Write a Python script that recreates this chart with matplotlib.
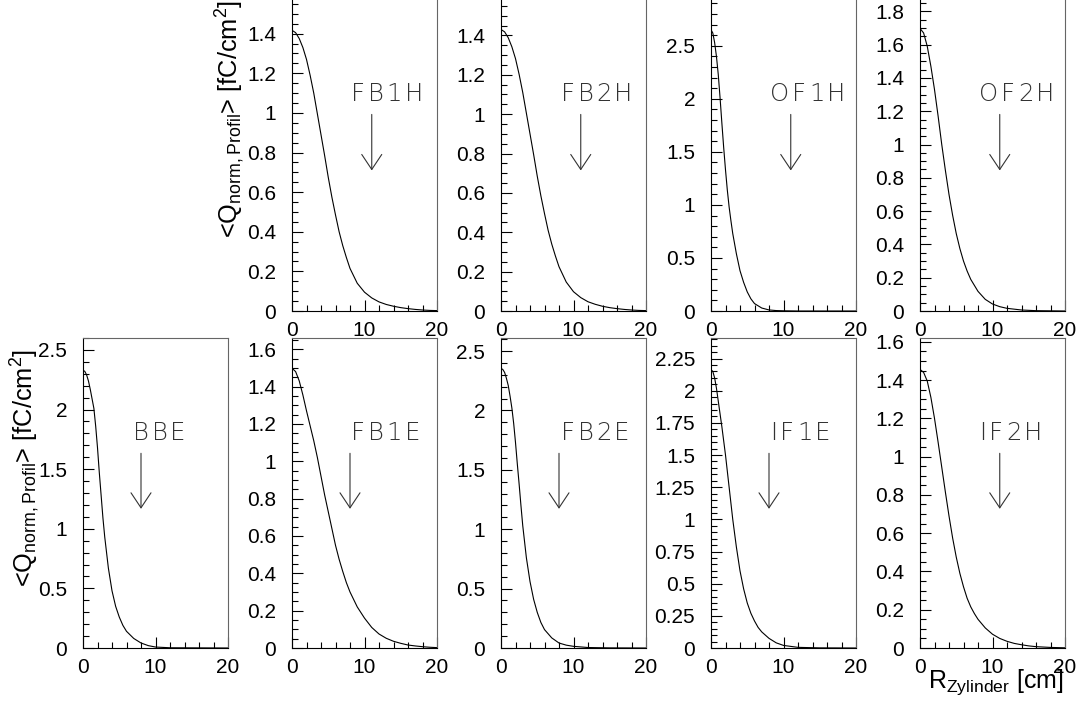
import matplotlib
matplotlib.use('Agg')
import matplotlib.pyplot as plt
from matplotlib.ticker import MultipleLocator, FuncFormatter
from matplotlib.transforms import Bbox, TransformedBbox, offset_copy
from matplotlib.font_manager import FontProperties
from matplotlib.textpath import text_to_path

plt.rcParams['font.family'] = ['Liberation Sans', 'DejaVu Sans']

# radial charge profiles <Q_norm,Profil>(R_Zylinder)
r_fb1h = [0, 0.5, 1, 1.5, 2, 2.5, 3, 3.5, 4, 4.5, 5, 5.5, 6, 6.5, 7, 7.5, 8,
          9, 10, 11, 12, 13, 14, 15, 16, 17, 18, 19, 20]
q_fb1h = [1.417, 1.405, 1.375, 1.33, 1.27, 1.19, 1.10, 0.995, 0.89, 0.785, 0.675,
          0.575, 0.485, 0.40, 0.33, 0.27, 0.215, 0.14, 0.095, 0.066, 0.046, 0.033,
          0.024, 0.017, 0.012, 0.008, 0.005, 0.003, 0.002]

r_fb2h = [0, 0.5, 1, 1.5, 2, 2.5, 3, 3.5, 4, 4.5, 5, 5.5, 6, 6.5, 7, 7.5, 8,
          9, 10, 11, 12, 13, 14, 15, 16, 17, 18, 19, 20]
q_fb2h = [1.43, 1.418, 1.388, 1.342, 1.282, 1.202, 1.11, 1.005, 0.90, 0.795, 0.685,
          0.585, 0.495, 0.41, 0.34, 0.28, 0.225, 0.147, 0.098, 0.068, 0.047, 0.034,
          0.024, 0.017, 0.012, 0.008, 0.005, 0.003, 0.002]

r_of1h = [0, 0.25, 0.5, 0.75, 1, 1.25, 1.5, 1.75, 2, 2.25, 2.5, 2.75, 3, 3.5, 4,
          4.5, 5, 5.5, 6, 7, 8, 9, 10, 12, 20]
q_of1h = [2.65, 2.62, 2.53, 2.40, 2.23, 2.01, 1.77, 1.54, 1.33, 1.14, 0.98, 0.85,
          0.73, 0.54, 0.38, 0.27, 0.18, 0.115, 0.07, 0.028, 0.01, 0.004, 0.002, 0.0, 0.0]

r_of2h = [0, 0.5, 1, 1.5, 2, 2.5, 3, 3.5, 4, 4.5, 5, 5.5, 6, 6.5, 7, 8, 9, 10,
          11, 12, 14, 16, 18, 20]
q_of2h = [1.697, 1.67, 1.59, 1.47, 1.33, 1.17, 1.0, 0.845, 0.70, 0.575, 0.465,
          0.375, 0.30, 0.24, 0.19, 0.118, 0.07, 0.042, 0.026, 0.016, 0.006, 0.002,
          0.001, 0.0]

r_bbe = [0, 0.25, 0.5, 0.75, 1, 1.25, 1.5, 1.75, 2, 2.25, 2.5, 2.75, 3, 3.5, 4,
         4.5, 5, 5.5, 6, 7, 8, 9, 10, 12, 20]
q_bbe = [2.33, 2.32, 2.29, 2.24, 2.17, 2.09, 2.01, 1.86, 1.68, 1.47, 1.28, 1.09,
         0.93, 0.67, 0.48, 0.35, 0.26, 0.19, 0.14, 0.08, 0.042, 0.02, 0.008, 0.002, 0.0]

r_fb1e = [0, 0.5, 1, 1.5, 2, 2.5, 3, 3.5, 4, 4.5, 5, 5.5, 6, 6.5, 7, 7.5, 8,
          9, 10, 11, 12, 13, 14, 15, 16, 17, 18, 19, 20]
q_fb1e = [1.498, 1.48, 1.43, 1.355, 1.27, 1.19, 1.11, 1.02, 0.92, 0.82, 0.73,
          0.64, 0.55, 0.475, 0.41, 0.35, 0.30, 0.22, 0.16, 0.11, 0.075, 0.052,
          0.036, 0.025, 0.016, 0.011, 0.007, 0.004, 0.002]

r_fb2e = [0, 0.25, 0.5, 0.75, 1, 1.25, 1.5, 1.75, 2, 2.25, 2.5, 2.75, 3, 3.5, 4,
          4.5, 5, 5.5, 6, 7, 8, 9, 10, 12, 15, 20]
q_fb2e = [2.354, 2.345, 2.32, 2.27, 2.21, 2.12, 2.02, 1.89, 1.73, 1.55, 1.38,
          1.20, 1.03, 0.76, 0.56, 0.41, 0.30, 0.215, 0.155, 0.085, 0.042, 0.024,
          0.014, 0.004, 0.001, 0.0]

r_if1e = [0, 0.25, 0.5, 0.75, 1, 1.25, 1.5, 1.75, 2, 2.5, 3, 3.5, 4, 4.5, 5,
          5.5, 6, 6.5, 7, 8, 9, 10, 12, 15, 20]
q_if1e = [2.164, 2.15, 2.10, 2.02, 1.92, 1.82, 1.72, 1.61, 1.50, 1.25, 1.00,
          0.785, 0.60, 0.46, 0.35, 0.27, 0.21, 0.16, 0.125, 0.075, 0.04, 0.02,
          0.005, 0.001, 0.0]

r_if2h = [0, 0.5, 1, 1.5, 2, 2.5, 3, 3.5, 4, 4.5, 5, 5.5, 6, 6.5, 7, 7.5, 8,
          9, 10, 11, 12, 13, 14, 15, 16, 17, 18, 19, 20]
q_if2h = [1.456, 1.44, 1.395, 1.31, 1.20, 1.075, 0.945, 0.815, 0.69, 0.575,
          0.475, 0.39, 0.32, 0.26, 0.215, 0.18, 0.15, 0.105, 0.072, 0.05, 0.035,
          0.024, 0.017, 0.011, 0.007, 0.005, 0.003, 0.002, 0.001]

names = ['FB1H', 'FB2H', 'OF1H', 'OF2H', 'BBE', 'FB1E', 'FB2E', 'IF1E', 'IF2H']
radii = [r_fb1h, r_fb2h, r_of1h, r_of2h, r_bbe, r_fb1e, r_fb2e, r_if1e, r_if2h]
charges = [q_fb1h, q_fb2h, q_of1h, q_of2h, q_bbe, q_fb1e, q_fb2e, q_if1e, q_if2h]
arrow_r = [11, 11, 11, 11, 8, 8, 8, 8, 11]   # arrow marker position in cm

# per panel layout: (column, row, ymax, major step, minor step, label x)
layout = [
    (1, 0, 1.58, 0.2, 0.05, 8.2),
    (2, 0, 1.59, 0.2, 0.05, 8.3),
    (3, 0, 2.95, 0.5, 0.1, 8.2),
    (4, 0, 1.88, 0.2, 0.05, 8.2),
    (0, 1, 2.60, 0.5, 0.1, 6.9),
    (1, 1, 1.66, 0.2, 0.05, 8.2),
    (2, 1, 2.61, 0.5, 0.1, 8.3),
    (3, 1, 2.41, 0.25, 0.05, 8.2),
    (4, 1, 1.62, 0.2, 0.05, 8.2),
]

W, H = 1077, 705
fig = plt.figure(figsize=(W / 100, H / 100), dpi=100)

col_left = [83, 292, 501, 711, 920]
pw = 145
row_geom = [(311, 313), (648, 310)]   # (bottom px from top, height px)

# station labels: thin font with extra letter spacing (ROOT look)
lab_fp = FontProperties(family='DejaVu Sans', weight='light', size=17.5)
track_pt = 1.9


def spaced_text(ax, x, y, s, trans):
    off = 0.0
    for ch in s:
        t = offset_copy(trans, fig=fig, x=off, y=0, units='points')
        ax.text(x, y, ch, transform=t, ha='left', va='baseline',
                fontproperties=lab_fp, color='#333333')
        w = text_to_path.get_text_width_height_descent(ch, lab_fp, ismath=False)[0]
        off += w + track_pt


for i, (col, row, ymax, major, minor, tx) in enumerate(layout):
    bot, hgt = row_geom[row]
    ax = fig.add_axes([col_left[col] / W, 1 - bot / H, pw / W, hgt / H])
    ax.plot(radii[i], charges[i], color='black', lw=0.8)
    ax.set_xlim(0, 20)
    ax.set_ylim(0, ymax)

    ax.xaxis.set_major_locator(MultipleLocator(10))
    ax.xaxis.set_minor_locator(MultipleLocator(2))
    ax.yaxis.set_major_locator(MultipleLocator(major))
    ax.yaxis.set_minor_locator(MultipleLocator(minor))
    ax.yaxis.set_major_formatter(FuncFormatter(lambda v, p: f'{v:g}'))
    ax.xaxis.set_major_formatter(FuncFormatter(lambda v, p: f'{v:g}'))

    ax.tick_params(which='both', direction='in', top=False, right=False,
                   labelsize=15, width=0.8)
    ax.tick_params(which='major', length=8)
    ax.tick_params(which='minor', length=4)
    ax.tick_params(axis='y', pad=11.5)
    ax.tick_params(axis='x', pad=7.5)

    for s in ['left', 'bottom']:
        ax.spines[s].set_linewidth(0.8)
        ax.spines[s].set_color('black')
    for s in ['top', 'right']:
        ax.spines[s].set_linewidth(0.8)
        ax.spines[s].set_color('#666666')

    trans = ax.get_xaxis_transform()
    spaced_text(ax, tx, 0.672, names[i], trans)
    ax.annotate('', xy=(arrow_r[i], 0.449), xytext=(arrow_r[i], 0.628),
                xycoords=trans, textcoords=trans,
                arrowprops=dict(arrowstyle='->,head_length=10.8,head_width=7.2',
                                mutation_scale=1, lw=0.8, color='#333333',
                                shrinkA=0, shrinkB=0))

ylab = r'<Q$_{\mathregular{norm,Profil}}$> [fC/cm$^{\mathregular{2}}$]'
fig.text(213 / W, 1 - 238 / H, ylab, rotation=90, ha='left', va='bottom', fontsize=18.3)
lab_b = fig.text(8 / W, 1 - 587 / H, ylab, rotation=90, ha='left', va='bottom',
                 fontsize=18.3)
# the lower pad clips its axis title at the pad edge
lab_b.set_clip_box(TransformedBbox(Bbox([[0, 0], [1, 1 - 333 / H]]), fig.transFigure))
lab_b.set_clip_on(True)

xlab = r'R$_{\mathregular{Zylinder}}$ [cm]'
fig.text(1064 / W, 1 - 688 / H, xlab, ha='right', va='baseline', fontsize=18)

fig.savefig('out.png', dpi=100, facecolor='white')
